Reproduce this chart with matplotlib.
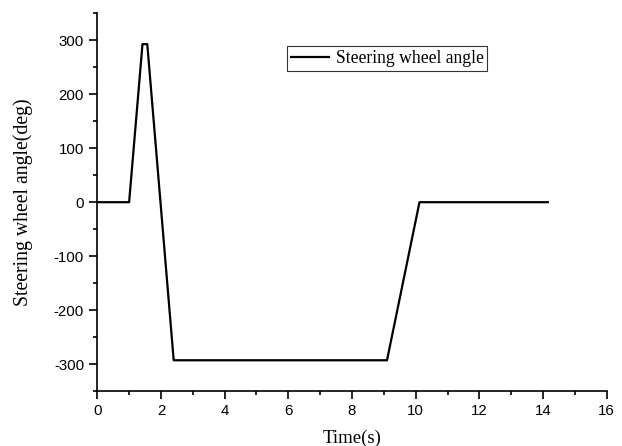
import matplotlib
matplotlib.use("Agg")
import matplotlib.pyplot as plt
from matplotlib.ticker import MultipleLocator

plt.rcParams["axes.unicode_minus"] = False

time_s = [0, 1.0, 1.42, 1.57, 2.4, 9.1, 10.12, 14.15]
angle_deg = [0, 0, 293, 293, -293, -293, 0, 0]
series_label = "Steering wheel angle"
x_ticks = [0, 2, 4, 6, 8, 10, 12, 14, 16]
y_ticks = [-300, -200, -100, 0, 100, 200, 300]

fig = plt.figure(figsize=(6.22, 4.46), dpi=100)
ax = fig.add_axes([0.1564, 0.1233, 0.819, 0.8467])
ax.plot(time_s, angle_deg, color="black", lw=1.6, label=series_label)
ax.set_xlim(0, 16)
ax.set_ylim(-350, 350)
ax.set_xticks(x_ticks)
ax.set_yticks(y_ticks)
ax.xaxis.set_minor_locator(MultipleLocator(1))
ax.yaxis.set_minor_locator(MultipleLocator(50))
for s in ["top", "right"]:
    ax.spines[s].set_visible(False)
for s in ["left", "bottom"]:
    ax.spines[s].set_linewidth(1.2)
ax.tick_params(which="major", direction="out", length=6, width=1.2, labelsize=10.8)
ax.tick_params(which="minor", direction="out", length=3, width=1.2)
for lab in ax.get_xticklabels() + ax.get_yticklabels():
    lab.set_fontfamily("Liberation Sans")
ax.set_xlabel("Time(s)", fontfamily="Liberation Serif", fontsize=13.5, labelpad=8)
ax.set_ylabel("Steering wheel angle(deg)", fontfamily="Liberation Serif", fontsize=14.2, labelpad=8)
ax.yaxis.set_label_coords(-0.126, 0.5)
leg = ax.legend(loc="upper left", bbox_to_anchor=(0.372, 0.914), frameon=True, fancybox=False,
                prop={"family": "Liberation Serif", "size": 12.7}, handlelength=2.2,
                borderpad=0.22, handletextpad=0.35, borderaxespad=0)
leg.get_frame().set_edgecolor("black")
leg.get_frame().set_linewidth(0.8)
fig.savefig("out.png", dpi=100)
